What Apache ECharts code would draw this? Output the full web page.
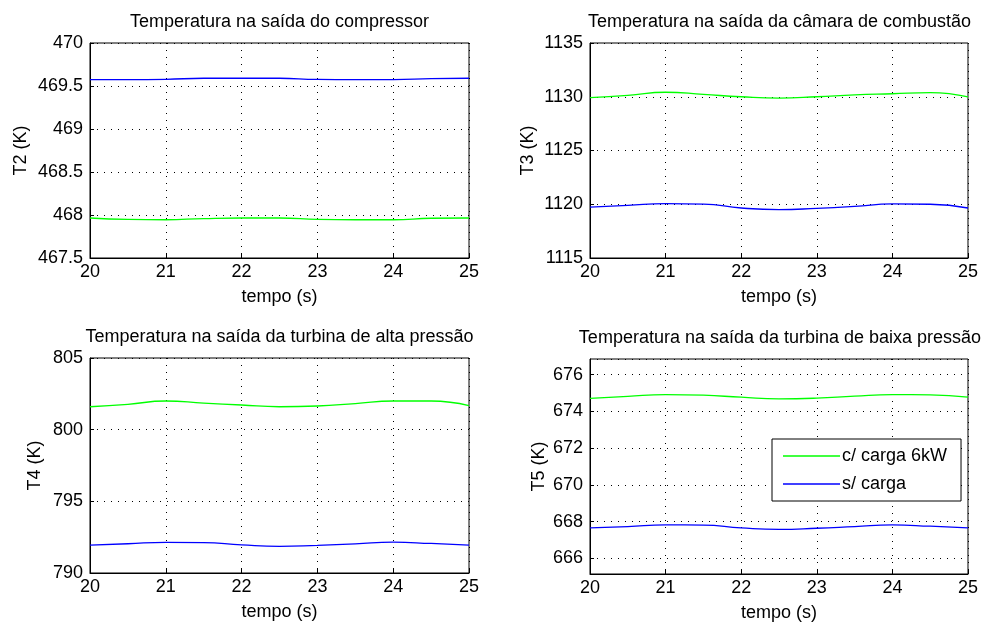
<!DOCTYPE html>
<html lang="pt">
<head>
<meta charset="UTF-8" />
<title>Temperaturas</title>
<script src="https://cdn.jsdelivr.net/npm/echarts@6/dist/echarts.min.js"></script>
<style>
html,body{margin:0;padding:0;background:#fff;}
#main{width:981px;height:623px;}
</style>
</head>
<body>
<div id="main"></div>
<script type="text/javascript">
// tempo (s)
var tempo = [20, 20.5, 21, 21.5, 22, 22.5, 23, 23.5, 24, 24.5, 25];

// T2 - saida do compressor
var t2Carga = [467.965, 467.948, 467.945, 467.958, 467.965, 467.965, 467.95, 467.945, 467.945, 467.962, 467.965];
var t2Sem   = [469.575, 469.575, 469.578, 469.59, 469.59, 469.59, 469.576, 469.575, 469.575, 469.585, 469.59];
// T3 - saida da camara de combustao
var t3Carga = [1129.92, 1130.12, 1130.42, 1130.22, 1130.0, 1129.88, 1130.0, 1130.18, 1130.28, 1130.38, 1129.98];
var t3Sem   = [1119.74, 1119.9, 1120.05, 1120.02, 1119.65, 1119.5, 1119.62, 1119.8, 1120.03, 1120.0, 1119.65];
// T4 - saida da turbina de alta pressao
var t4Carga = [801.6, 801.77, 802.0, 801.85, 801.72, 801.6, 801.65, 801.82, 802.0, 802.0, 801.68];
var t4Sem   = [791.95, 792.04, 792.14, 792.12, 791.96, 791.86, 791.93, 792.03, 792.15, 792.06, 791.95];
// T5 - saida da turbina de baixa pressao
var t5Carga = [674.71, 674.82, 674.91, 674.88, 674.77, 674.68, 674.72, 674.83, 674.91, 674.9, 674.77];
var t5Sem   = [667.66, 667.73, 667.82, 667.81, 667.66, 667.58, 667.64, 667.73, 667.82, 667.75, 667.66];

var titulos = [
	'Temperatura na saída do compressor',
	'Temperatura na saída da câmara de combustão',
	'Temperatura na saída da turbina de alta pressão',
	'Temperatura na saída da turbina de baixa pressão'
];
var nomesY = ['T2 (K)', 'T3 (K)', 'T4 (K)', 'T5 (K)'];
var nomeX = 'tempo (s)';
var legendas = ['c/ carga 6kW', 's/ carga'];

var fonte = "'Liberation Sans', Arial, sans-serif";
var pontilhado = {color:'#000', width:1, type:[1,6]};

// posicao de cada subplot (px)
var grids = [
	{left:90, top:43, width:379, height:215},
	{left:590, top:43, width:379, height:215},
	{left:90, top:358, width:379, height:215},
	{left:590, top:359, width:380, height:215}
];
var yLim = [[467.5, 470, 0.5], [1115, 1135, 5], [790, 805, 5], [665.15, 676.85, null]];
var gapY = [60, 53, 46, 42];
var titTop = [13, 13, 328, 329];

function pares(v){
	var r = [];
	for(var i=0;i<tempo.length;i++){ r.push([tempo[i], v[i]]) }
	return r;
}
function semVirgula(v){
	return String(Math.round(v*1000)/1000);
}

var option = {
	backgroundColor:'#fff',
	animation:false,
	textStyle:{fontFamily:fonte},
	title:[],
	grid:[],
	xAxis:[],
	yAxis:[],
	series:[],
	legend:{
		data:[
			{name:legendas[0], icon:'rect', itemStyle:{color:'#00ff00'}},
			{name:legendas[1], icon:'rect', itemStyle:{color:'#0000ff'}}
		],
		orient:'vertical',
		left:772, top:439,
		padding:[8,14,8,11],
		itemGap:10,
		itemWidth:57,
		itemHeight:1.5,
		borderColor:'#000', borderWidth:1,
		backgroundColor:'#fff',
		textStyle:{fontSize:18, color:'#000', fontFamily:fonte, padding:[0,0,0,-3]}
	}
};

var dadosC = [t2Carga, t3Carga, t4Carga, t5Carga];
var dadosS = [t2Sem, t3Sem, t4Sem, t5Sem];

for(var i=0;i<4;i++){
	option.title.push({
		text:titulos[i],
		left:grids[i].left + grids[i].width/2,
		top:titTop[i],
		textAlign:'center',
		padding:0,
		textStyle:{fontSize:18, fontWeight:'normal', color:'#000', fontFamily:fonte}
	});
	option.grid.push({
		left:grids[i].left, top:grids[i].top, width:grids[i].width, height:grids[i].height,
		show:true, borderColor:'#000', borderWidth:1, backgroundColor:'#fff',
		containLabel:false
	});
	option.xAxis.push({
		type:'value', gridIndex:i, min:20, max:25, interval:1,
		name:nomeX, nameLocation:'middle', nameGap:30,
		nameTextStyle:{fontSize:18, color:'#000', fontFamily:fonte},
		axisLine:{show:true, lineStyle:{color:'#000'}},
		axisTick:{show:true, inside:true, length:4, lineStyle:{color:'#000'}},
		axisLabel:{fontSize:18, color:'#000', margin:5, fontFamily:fonte, formatter:semVirgula},
		splitLine:{show:true, lineStyle:pontilhado}
	});
	var y = {
		type:'value', gridIndex:i, min:yLim[i][0], max:yLim[i][1],
		name:nomesY[i], nameLocation:'middle', nameGap:gapY[i], nameRotate:90,
		nameTextStyle:{fontSize:18, color:'#000', fontFamily:fonte},
		axisLine:{show:true, lineStyle:{color:'#000'}},
		axisTick:{show:true, inside:true, length:4, lineStyle:{color:'#000'}},
		axisLabel:{fontSize:18, color:'#000', margin:7, fontFamily:fonte, formatter:semVirgula},
		splitLine:{show:true, lineStyle:pontilhado}
	};
	if(yLim[i][2]){
		y.interval = yLim[i][2];
	}else{
		y.splitNumber = 6;
		y.axisLabel.showMinLabel = false;
		y.axisLabel.showMaxLabel = false;
	}
	option.yAxis.push(y);
	option.series.push({
		name:legendas[0], type:'line', xAxisIndex:i, yAxisIndex:i,
		data:pares(dadosC[i]), smooth:true, symbol:'none', showSymbol:false,
		lineStyle:{color:'#00ff00', width:1.3}, itemStyle:{color:'#00ff00'}
	});
	option.series.push({
		name:legendas[1], type:'line', xAxisIndex:i, yAxisIndex:i,
		data:pares(dadosS[i]), smooth:true, symbol:'none', showSymbol:false,
		lineStyle:{color:'#0000ff', width:1.3}, itemStyle:{color:'#0000ff'}
	});
}

var myChart = echarts.init(document.getElementById('main'));
myChart.setOption(option);
</script>
</body>
</html>
